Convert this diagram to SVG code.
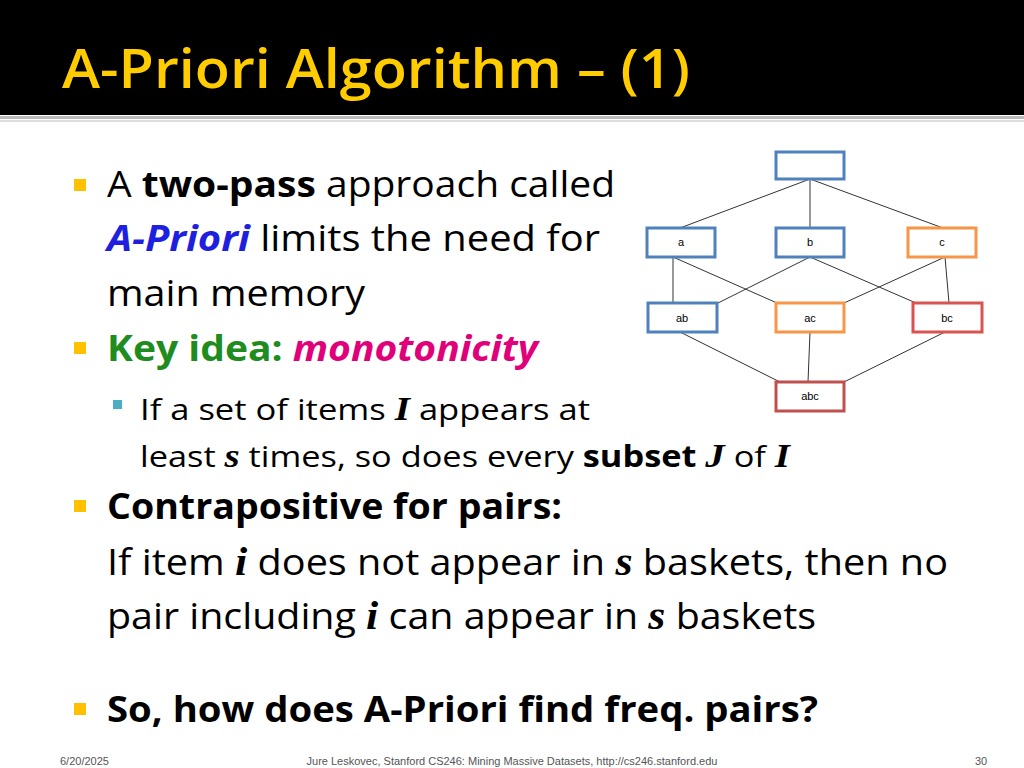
<svg xmlns="http://www.w3.org/2000/svg" width="1024" height="768" viewBox="0 0 1024 768">
<style>
.b{font-family:"Open Sans","Liberation Sans",sans-serif;font-size:36px;fill:#000}
.s{font-family:"Open Sans","Liberation Sans",sans-serif;font-size:30px;fill:#000}
.v{font-family:"Liberation Serif","Times New Roman",serif;font-weight:bold;font-style:italic}
.bx{fill:#fff;stroke-width:3}
.bl{stroke:#4F81BD}.or{stroke:#F79646}.rd{stroke:#D9534F}.dr{stroke:#C0504D}
.lb{font-family:"Liberation Sans",Arial,sans-serif;font-size:11px;fill:#000;text-anchor:middle}
.f{font-family:"Liberation Sans",Arial,sans-serif;font-size:11px;fill:#555}
</style>
<rect width="1024" height="768" fill="#fff"/>
<rect width="1024" height="115" fill="#000"/>
<rect y="116" width="1024" height="3" fill="#bbb"/>
<rect y="120" width="1024" height="2" fill="#ddd"/>
<text x="62" y="88" font-family="Open Sans,Liberation Sans,sans-serif" font-size="54" font-weight="600" fill="#FFCC00" textLength="628" lengthAdjust="spacingAndGlyphs">A-Priori Algorithm – (1)</text>
<g fill="#FFC000"><rect x="74" y="179" width="12" height="12"/><rect x="74" y="342" width="12" height="12"/><rect x="74" y="500" width="12" height="12"/><rect x="74" y="703" width="12" height="12"/></g>
<rect x="113" y="400" width="9" height="9" fill="#4BACC6"/>
<text class="b" x="107" y="197" textLength="508" lengthAdjust="spacingAndGlyphs">A <tspan font-weight="bold">two-pass</tspan> approach called</text>
<text class="b" x="107" y="251" textLength="493" lengthAdjust="spacingAndGlyphs"><tspan font-weight="bold" font-style="italic" fill="#1F1FE0">A-Priori</tspan> limits the need for</text>
<text class="b" x="107" y="306" textLength="258" lengthAdjust="spacingAndGlyphs">main memory</text>
<text class="b" x="107" y="361" font-weight="bold" textLength="431" lengthAdjust="spacingAndGlyphs"><tspan fill="#1E8C1E">Key idea: </tspan><tspan fill="#E0007A" font-style="italic">monotonicity</tspan></text>
<text class="s" x="140" y="420" textLength="450" lengthAdjust="spacingAndGlyphs">If a set of items <tspan class="v" font-size="34">I</tspan> appears at</text>
<text class="s" x="140" y="467" textLength="650" lengthAdjust="spacingAndGlyphs">least <tspan class="v" font-size="34">s</tspan> times, so does every <tspan font-weight="bold">subset</tspan> <tspan class="v" font-size="34">J</tspan> of <tspan class="v" font-size="34">I</tspan></text>
<text class="b" x="107" y="519" font-weight="bold" fill="#1E8C1E" textLength="455" lengthAdjust="spacingAndGlyphs">Contrapositive for pairs:</text>
<text class="b" x="107" y="575" textLength="841" lengthAdjust="spacingAndGlyphs">If item <tspan class="v" font-size="40">i</tspan> does not appear in <tspan class="v" font-size="40">s</tspan> baskets, then no</text>
<text class="b" x="107" y="629" textLength="709" lengthAdjust="spacingAndGlyphs">pair including <tspan class="v" font-size="40">i</tspan> can appear in <tspan class="v" font-size="40">s</tspan> baskets</text>
<text class="b" x="107" y="722" font-weight="bold" fill="#F0196E" textLength="711" lengthAdjust="spacingAndGlyphs">So, how does A-Priori find freq. pairs?</text>
<g id="connectors" stroke="#333" stroke-width="1" fill="none">
<line x1="810" y1="179" x2="680" y2="228"/><line x1="810" y1="179" x2="810" y2="228"/><line x1="810" y1="179" x2="943" y2="228"/>
<line x1="673" y1="257" x2="673" y2="303"/><line x1="673" y1="257" x2="777" y2="303"/>
<line x1="810" y1="257" x2="718" y2="303"/><line x1="810" y1="257" x2="916" y2="303"/>
<line x1="945" y1="257" x2="844" y2="303"/><line x1="945" y1="257" x2="949" y2="303"/>
<line x1="680" y1="332" x2="780" y2="382"/><line x1="810" y1="332" x2="808" y2="382"/><line x1="945" y1="332" x2="844" y2="382"/>
</g>
<g id="n_empty"><rect class="bx bl" x="776" y="152" width="68" height="27"/></g>
<g id="n_a"><rect class="bx bl" x="647" y="228" width="68" height="29"/><text class="lb" x="681" y="246">a</text></g>
<g id="n_b"><rect class="bx bl" x="776" y="228" width="68" height="29"/><text class="lb" x="810" y="246">b</text></g>
<g id="n_c"><rect class="bx or" x="908" y="228" width="68" height="29"/><text class="lb" x="942" y="246">c</text></g>
<g id="n_ab"><rect class="bx bl" x="648" y="303" width="69" height="29"/><text class="lb" x="682" y="322">ab</text></g>
<g id="n_ac"><rect class="bx or" x="776" y="303" width="68" height="29"/><text class="lb" x="810" y="322">ac</text></g>
<g id="n_bc"><rect class="bx rd" x="913" y="303" width="69" height="29"/><text class="lb" x="947" y="322">bc</text></g>
<g id="n_abc"><rect class="bx dr" x="776" y="382" width="68" height="29"/><text class="lb" x="810" y="400">abc</text></g>
<text class="f" x="60" y="765">6/20/2025</text>
<text class="f" x="512" y="765" text-anchor="middle">Jure Leskovec, Stanford CS246: Mining Massive Datasets, http://cs246.stanford.edu</text>
<text class="f" x="975" y="765">30</text>
</svg>
